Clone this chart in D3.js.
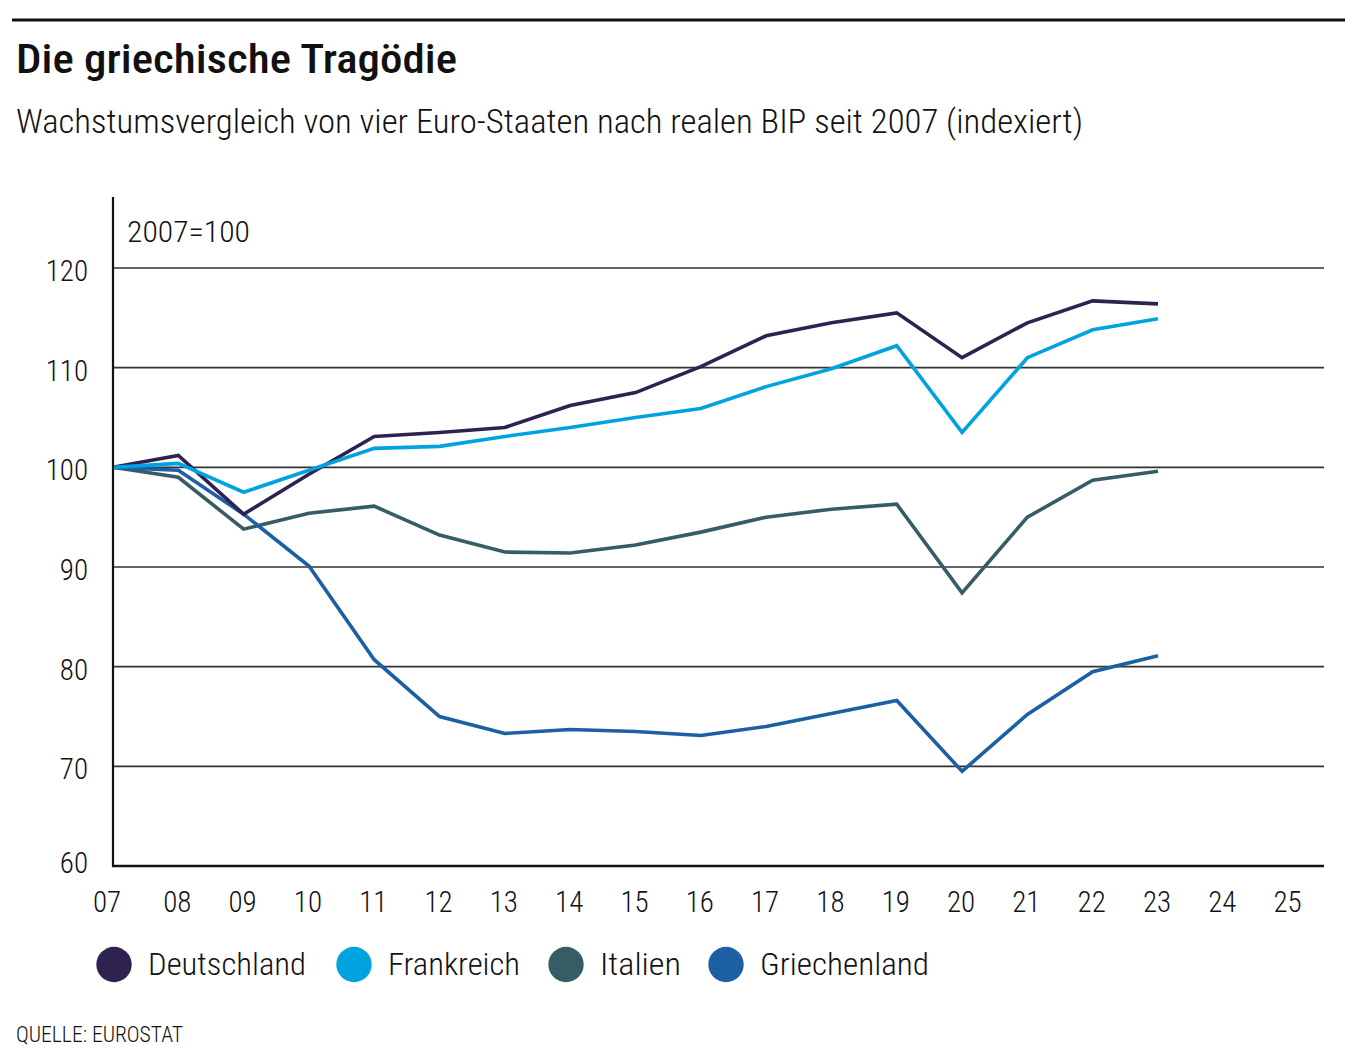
<!DOCTYPE html>
<html><head><meta charset="utf-8">
<script src="https://cdn.jsdelivr.net/npm/d3@7"></script>
<style>
body{margin:0;background:#fff;}
svg text{font-family:"Liberation Sans Narrow","Roboto Condensed","DejaVu Sans Condensed","Liberation Sans",sans-serif;fill:#111;font-weight:300;}
</style></head><body>
<svg id="c" width="1360" height="1062"></svg>
<script>
const years = [2007,2008,2009,2010,2011,2012,2013,2014,2015,2016,2017,2018,2019,2020,2021,2022,2023];
const deutschland = [100,101.2,95.3,99.3,103.1,103.5,104.0,106.2,107.5,110.1,113.2,114.5,115.5,111.0,114.5,116.7,116.4];
const frankreich = [100,100.4,97.5,99.7,101.9,102.1,103.1,104.0,105.0,105.9,108.1,109.9,112.2,103.5,111.0,113.8,114.9];
const italien = [100,99.0,93.8,95.4,96.1,93.2,91.5,91.4,92.2,93.5,95.0,95.8,96.3,87.4,95.0,98.7,99.6];
const griechenland = [100,99.7,95.3,90.1,80.7,75.0,73.3,73.7,73.5,73.1,74.0,75.3,76.6,69.5,75.2,79.5,81.1];
const seriesNames = ["Deutschland","Frankreich","Italien","Griechenland"];
const seriesColors = ["#2e2250","#00a3e0","#365c65","#1c5fa3"];
const xTickYears = [2007,2008,2009,2010,2011,2012,2013,2014,2015,2016,2017,2018,2019,2020,2021,2022,2023,2024,2025];
const yTicks = [60,70,80,90,100,110,120];

const svg = d3.select("#c");
function fit(sel, w){ sel.each(function(){ const n=this; const l=n.getComputedTextLength(); if(l>0){ n.setAttribute("textLength", w); n.setAttribute("lengthAdjust","spacingAndGlyphs"); } }); return sel; }

// top rule
svg.append("line").attr("x1",12).attr("x2",1345).attr("y1",20).attr("y2",20).attr("stroke","#111").attr("stroke-width",3);
fit(svg.append("text").attr("x",16).attr("y",73).attr("font-size",40).style("font-weight","500").text("Die griechische Tragödie"),441);
fit(svg.append("text").attr("x",16).attr("y",133).attr("font-size",33).text("Wachstumsvergleich von vier Euro-Staaten nach realen BIP seit 2007 (indexiert)"),1067);

const x = d3.scaleLinear().domain([2007,2023]).range([113,1158]);
const y = d3.scaleLinear().domain([60,120]).range([866,268]);

// grid
svg.append("g").selectAll("line").data(yTicks.filter(d=>d>60)).join("line")
  .attr("x1",113).attr("x2",1324).attr("y1",d=>y(d)).attr("y2",d=>y(d))
  .attr("stroke","#333").attr("stroke-width",1.6);

// y labels
svg.append("g").selectAll("text").data(yTicks).join("text")
  .attr("x",88).attr("y",d=>y(d)+ (d===60?7:13)).attr("text-anchor","end").attr("font-size",29)
  .text(d=>d);
// x labels
svg.append("g").selectAll("text").data(xTickYears).join("text")
  .attr("x",d=>x(d)-(d===2007?6:1)).attr("y",912).attr("text-anchor","middle").attr("font-size",29)
  .text(d=>String(d%100).padStart(2,"0"));

fit(svg.append("text").attr("x",127).attr("y",242).attr("font-size",29).text("2007=100"),123);

// lines
const data = [deutschland,frankreich,italien,griechenland];
const line = d3.line().x((d,i)=>x(years[i])).y(d=>y(d));
const order = [2,3,0,1];
order.forEach(k=>{
  svg.append("path").attr("d",line(data[k])).attr("fill","none").attr("stroke",seriesColors[k])
    .attr("stroke-width",3.6).attr("stroke-linejoin","miter");
});

// axes
svg.append("line").attr("x1",113).attr("x2",113).attr("y1",197).attr("y2",867).attr("stroke","#111").attr("stroke-width",2.2);
svg.append("line").attr("x1",112).attr("x2",1324).attr("y1",866).attr("y2",866).attr("stroke","#111").attr("stroke-width",2.4);

// legend
const legX = [114,354,566,726];
const legW = [158,132,81,169];
seriesNames.forEach((n,i)=>{
  svg.append("circle").attr("cx",legX[i]).attr("cy",964.5).attr("r",17.7).attr("fill",seriesColors[i]);
  fit(svg.append("text").attr("x",legX[i]+34).attr("y",975).attr("font-size",31).text(n),legW[i]);
});
fit(svg.append("text").attr("x",16).attr("y",1042).attr("font-size",22).text("QUELLE: EUROSTAT"),167);
</script>
</body></html>
